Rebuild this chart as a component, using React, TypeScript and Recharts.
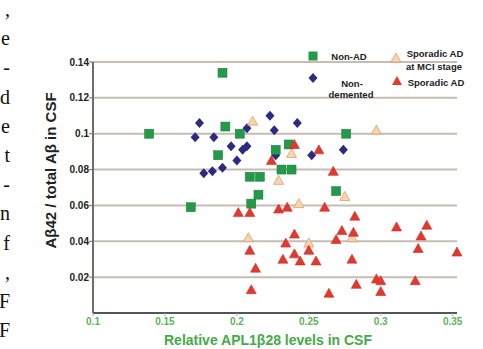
import { ScatterChart, Scatter, XAxis, YAxis, CartesianGrid, Legend } from 'recharts'

// [relative APL1b28, Ab42 / total Ab]
const nonAD: [number, number][] = [
  [0.139, 0.100], [0.190, 0.134], [0.192, 0.104], [0.202, 0.100], [0.187, 0.088],
  [0.209, 0.076], [0.216, 0.076], [0.215, 0.066], [0.168, 0.059], [0.210, 0.061],
  [0.236, 0.094], [0.227, 0.091], [0.231, 0.080], [0.238, 0.080], [0.276, 0.100],
  [0.269, 0.068],
]

const nonDemented: [number, number][] = [
  [0.174, 0.106], [0.171, 0.098], [0.184, 0.098], [0.207, 0.103], [0.196, 0.093],
  [0.204, 0.091], [0.207, 0.093], [0.200, 0.085], [0.190, 0.081], [0.183, 0.079],
  [0.177, 0.078], [0.223, 0.110], [0.226, 0.102], [0.242, 0.106], [0.227, 0.088],
  [0.252, 0.088], [0.274, 0.091],
]

const mciStage: [number, number][] = [
  [0.211, 0.107], [0.297, 0.102], [0.238, 0.089], [0.229, 0.074], [0.275, 0.065],
  [0.243, 0.061], [0.208, 0.042], [0.250, 0.039], [0.280, 0.042],
]

const sporadicAD: [number, number][] = [
  [0.240, 0.094], [0.257, 0.091], [0.224, 0.085], [0.267, 0.079], [0.201, 0.056],
  [0.209, 0.056], [0.229, 0.058], [0.235, 0.059], [0.261, 0.059], [0.282, 0.054],
  [0.311, 0.048], [0.332, 0.049], [0.328, 0.043], [0.273, 0.046], [0.281, 0.045],
  [0.269, 0.041], [0.326, 0.036], [0.353, 0.034], [0.240, 0.044], [0.234, 0.039],
  [0.250, 0.035], [0.240, 0.033], [0.232, 0.030], [0.244, 0.029], [0.255, 0.029],
  [0.280, 0.030], [0.209, 0.035], [0.213, 0.025], [0.210, 0.013], [0.297, 0.019],
  [0.300, 0.018], [0.324, 0.018], [0.283, 0.016], [0.264, 0.011], [0.300, 0.012],
]

const xTicks = [0.1, 0.15, 0.2, 0.25, 0.3, 0.35]
const yTicks = [0.02, 0.04, 0.06, 0.08, 0.1, 0.12, 0.14]

// cut-off ends of the surrounding paper text
const edgeText = [',', 'e', '-', 'd', 'e', 't', '-', 'n', 'f', ',', 'F', 'F']

const GREEN = '#23994a'
const BLUE = '#2d2a82'
const RED = '#e5382d'
const TAN = '#f5d6b4'
const TAN_EDGE = '#e29a62'
const FONT = '"Liberation Sans", Arial, sans-serif'

const toPoints = (rows: [number, number][]) => rows.map(([x, y]) => ({ x, y }))

const SquareDot = (p: any) => (
  <rect x={p.cx - 4.5} y={p.cy - 4.5} width={9} height={9} fill={GREEN} stroke="#1b7a3a" strokeWidth={0.5} />
)

const DiamondDot = (p: any) => (
  <polygon
    points={`${p.cx},${p.cy - 5} ${p.cx + 4.5},${p.cy} ${p.cx},${p.cy + 5} ${p.cx - 4.5},${p.cy}`}
    fill={BLUE}
  />
)

const triangle = (cx: number, cy: number) =>
  `${cx},${cy - 5} ${cx + 5},${cy + 4} ${cx - 5},${cy + 4}`

const RedDot = (p: any) => <polygon points={triangle(p.cx, p.cy)} fill={RED} stroke="#c0302a" strokeWidth={0.6} />
const TanDot = (p: any) => <polygon points={triangle(p.cx, p.cy)} fill={TAN} stroke={TAN_EDGE} strokeWidth={0.8} />

function ChartLegend() {
  return (
    <svg width={175} height={62} style={{ fontFamily: FONT, fontWeight: 700, fontSize: 9.5 }}>
      <rect x={4.5} y={5.5} width={9} height={9} fill={GREEN} />
      <text x={45} y={13.5} textAnchor="middle" fill="#222">Non-AD</text>
      <polygon points="9,27 13.5,32 9,37 4.5,32" fill={BLUE} />
      <text x={48} y={40.5} textAnchor="middle" fill="#222">Non-</text>
      <text x={47} y={51.5} textAnchor="middle" fill="#222">demented</text>
      <polygon points={triangle(92, 12)} fill={TAN} stroke={TAN_EDGE} strokeWidth={0.8} />
      <text x={131} y={10.5} textAnchor="middle" fill="#222">Sporadic AD</text>
      <text x={130} y={23.5} textAnchor="middle" fill="#222">at MCI stage</text>
      <polygon points={triangle(93, 35)} fill={RED} />
      <text x={132} y={39.5} textAnchor="middle" fill="#222">Sporadic AD</text>
    </svg>
  )
}

export default function App() {
  return (
    <div style={{ position: 'relative', width: 483, height: 349 }}>
      <style>{'body { margin: 0; }'}</style>
      <svg
        width={14}
        height={349}
        style={{ position: 'absolute', left: 0, top: 0 }}
        fontFamily='"Liberation Serif", "DejaVu Serif", serif'
        fontSize={20}
        fill="#111"
      >
        {edgeText.map((t, i) => (
          <text key={i} x={10} y={16 + i * 29.2} textAnchor="end">{t}</text>
        ))}
      </svg>
      <div style={{ position: 'absolute', left: 8, top: 8 }}>
        <ScatterChart width={475} height={341} margin={{ top: 54, right: 26, left: 20, bottom: 0 }}>
          <CartesianGrid horizontal vertical={false} stroke="#c6bcb4" strokeWidth={2} />
          <XAxis
            type="number"
            dataKey="x"
            domain={[0.1, 0.35]}
            ticks={xTicks}
            tickFormatter={(v) => String(v)}
            height={36}
            axisLine={{ stroke: '#555', strokeWidth: 2 }}
            tickLine={{ stroke: '#aaa' }}
            tickSize={3}
            tickMargin={2}
            tick={{ fill: '#5ab55a', fontSize: 10, fontWeight: 700, fontFamily: FONT }}
            label={{
              content: (p: any) => {
                const vb = p.viewBox
                return (
                  <text x={vb.x + vb.width / 2 - 7} y={vb.y + 32} textAnchor="middle"
                    fill="#46aa48" fontSize={14} fontWeight={700} fontFamily={FONT}>
                    Relative APL1β28 levels in CSF
                  </text>
                )
              },
            }}
          />
          <YAxis
            type="number"
            dataKey="y"
            domain={[0, 0.14]}
            ticks={yTicks}
            interval={0}
            tickFormatter={(v) => String(v)}
            width={65}
            axisLine={{ stroke: '#746b64', strokeWidth: 2 }}
            tickLine={{ stroke: '#746b64' }}
            tickSize={4}
            tickMargin={0}
            tick={{ fill: '#222', fontSize: 10, fontWeight: 700, fontFamily: FONT }}
            label={{
              content: (p: any) => {
                const vb = p.viewBox
                const cx = vb.x + 22
                const cy = vb.y + vb.height / 2 - 17
                return (
                  <text x={cx} y={cy} transform={`rotate(-90 ${cx} ${cy})`} textAnchor="middle"
                    dominantBaseline="central" fill="#222" fontSize={15} fontWeight={700} fontFamily={FONT}>
                    Aβ42 / total Aβ in CSF
                  </text>
                )
              },
            }}
          />
          <Legend
            layout="vertical"
            align="center"
            verticalAlign="middle"
            wrapperStyle={{ left: 296, top: 38, width: 175, height: 62 }}
            content={() => <ChartLegend />}
          />
          <Scatter name="Non-demented" data={toPoints(nonDemented)} shape={DiamondDot} isAnimationActive={false} />
          <Scatter name="Non-AD" data={toPoints(nonAD)} shape={SquareDot} isAnimationActive={false} />
          <Scatter name="Sporadic AD at MCI stage" data={toPoints(mciStage)} shape={TanDot} isAnimationActive={false} />
          <Scatter name="Sporadic AD" data={toPoints(sporadicAD)} shape={RedDot} isAnimationActive={false} />
        </ScatterChart>
      </div>
    </div>
  )
}
